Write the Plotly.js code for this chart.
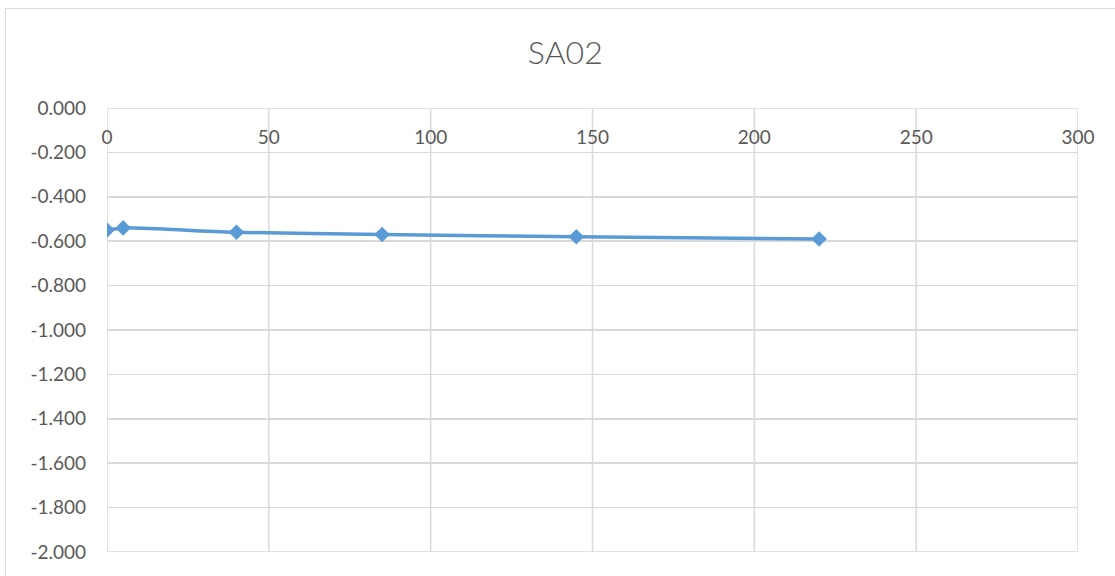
<!DOCTYPE html>
<html>
<head>
<meta charset="utf-8">
<script src="https://cdn.plot.ly/plotly-3.0.1.min.js"></script>
<style>
html, body { margin: 0; padding: 0; background: #ffffff; overflow: hidden; }
#wrap { position: relative; width: 1115px; height: 576px; }
#chart { position: absolute; left: 0; top: 0; width: 1115px; height: 576px; }
#frame { position: absolute; left: 5px; top: 8px; width: 1200px; height: 700px; border: 1.5px solid #d9d9d9; pointer-events: none; box-sizing: border-box; }
</style>
</head>
<body>
<div id="wrap">
<div id="chart"></div>
<div id="frame"></div>
</div>
<script>
const chartTitle = "SA02";
const xValues = [0, 5, 40, 85, 145, 220];
const yValues = [-0.55, -0.54, -0.56, -0.57, -0.58, -0.59];
const xTickVals = [0, 50, 100, 150, 200, 250, 300];
const xTickText = ["0", "50", "100", "150", "200", "250", "300"];
const yTickVals = [0, -0.2, -0.4, -0.6, -0.8, -1.0, -1.2, -1.4, -1.6, -1.8, -2.0];
const yTickText = ["0.000", "-0.200", "-0.400", "-0.600", "-0.800", "-1.000", "-1.200", "-1.400", "-1.600", "-1.800", "-2.000"];

const trace = {
  x: xValues,
  y: yValues,
  type: "scatter",
  mode: "lines+markers",
  line: { color: "#5b9bd5", width: 3.5, shape: "spline", smoothing: 0.6 },
  marker: { symbol: "diamond", size: 12, color: "#5b9bd5" },
  hoverinfo: "x+y"
};

const gridColor = "#d9d9d9";
const yMin = yTickVals[yTickVals.length - 1];
const yMax = yTickVals[0];
const vGrid = xTickVals.map(v => ({
  type: "line", xref: "x", yref: "y", x0: v, x1: v, y0: yMin, y1: yMax,
  line: { color: gridColor, width: 1.5 }, layer: "below"
}));

const layout = {
  width: 1115,
  height: 576,
  margin: { l: 107, r: 37, t: 108, b: 24 },
  paper_bgcolor: "rgba(0,0,0,0)",
  plot_bgcolor: "rgba(0,0,0,0)",
  showlegend: false,
  font: { family: "Lato, 'Noto Sans', sans-serif", color: "#595959", size: 19 },
  title: {
    text: chartTitle,
    font: { family: "Lato, 'Noto Sans', sans-serif", size: 32, color: "#595959", weight: 300 },
    xref: "container", x: 0.507, xanchor: "center",
    yref: "container", y: 1 - 53 / 576, yanchor: "middle"
  },
  xaxis: {
    range: [0, 300],
    side: "top",
    tickvals: xTickVals,
    ticktext: xTickText,
    ticklabelposition: "inside",
    ticklabeloverflow: "allow",
    ticklabelstandoff: 20,
    ticks: "",
    showgrid: false,
    zeroline: false,
    showline: false,
    tickfont: { size: 19, color: "#595959" },
    fixedrange: true
  },
  yaxis: {
    range: [yMin, yMax],
    tickvals: yTickVals,
    ticktext: yTickText,
    ticks: "",
    ticklabelstandoff: 20,
    showgrid: true,
    gridcolor: gridColor,
    gridwidth: 1.5,
    zeroline: false,
    showline: false,
    tickfont: { size: 19, color: "#595959" },
    fixedrange: true
  },
  shapes: vGrid.concat([
    { type: "line", xref: "x", yref: "y", x0: 0, x1: 300, y0: yMin, y1: yMin, line: { color: gridColor, width: 1.5 }, layer: "below" },
    { type: "line", xref: "x", yref: "y", x0: 0, x1: 300, y0: yMax, y1: yMax, line: { color: gridColor, width: 1.5 }, layer: "below" }
  ])
};

Plotly.newPlot("chart", [trace], layout, { displayModeBar: false, staticPlot: true });
</script>
</body>
</html>
